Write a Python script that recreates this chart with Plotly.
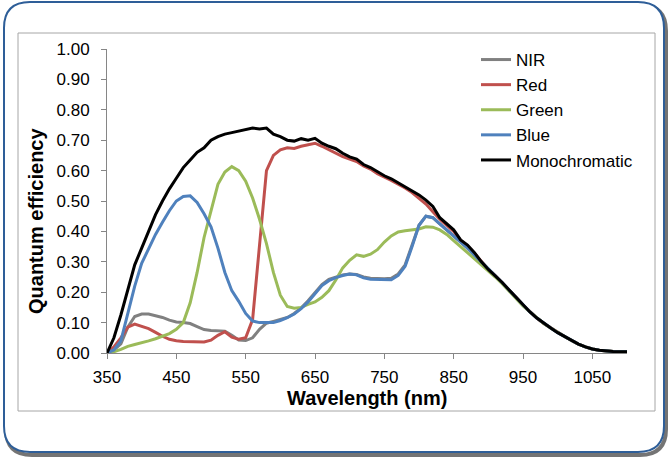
import plotly.graph_objects as go

# ---------------- data ----------------
wavelength = list(range(350, 1101, 10))

nir = [0.000, 0.010, 0.030, 0.085, 0.120, 0.128, 0.128, 0.123, 0.117, 0.108,
       0.102, 0.100, 0.097, 0.087, 0.077, 0.074, 0.074, 0.072, 0.058, 0.043,
       0.041, 0.050, 0.078, 0.098, 0.104, 0.110, 0.117, 0.130, 0.148, 0.172,
       0.200, 0.225, 0.242, 0.250, 0.257, 0.260, 0.258, 0.250, 0.246, 0.245,
       0.244, 0.246, 0.260, 0.290, 0.352, 0.420, 0.450, 0.445, 0.425, 0.405,
       0.388, 0.366, 0.345, 0.323, 0.300, 0.275, 0.255, 0.232, 0.207, 0.183,
       0.158, 0.135, 0.115, 0.097, 0.082, 0.067, 0.054, 0.041, 0.029, 0.020,
       0.013, 0.009, 0.006, 0.005, 0.004, 0.004]

red = [0.000, 0.020, 0.050, 0.085, 0.095, 0.088, 0.080, 0.068, 0.055, 0.045,
       0.040, 0.038, 0.038, 0.037, 0.036, 0.042, 0.058, 0.070, 0.052, 0.045,
       0.050, 0.110, 0.360, 0.600, 0.650, 0.668, 0.675, 0.673, 0.680, 0.684,
       0.690, 0.680, 0.668, 0.657, 0.646, 0.638, 0.630, 0.615, 0.605, 0.590,
       0.580, 0.568, 0.555, 0.543, 0.528, 0.510, 0.490, 0.465, 0.440, 0.420,
       0.400, 0.370, 0.352, 0.328, 0.300, 0.275, 0.255, 0.232, 0.207, 0.183,
       0.158, 0.135, 0.115, 0.097, 0.082, 0.067, 0.054, 0.041, 0.029, 0.020,
       0.013, 0.009, 0.006, 0.005, 0.004, 0.004]

green = [0.000, 0.004, 0.012, 0.022, 0.028, 0.033, 0.040, 0.047, 0.055, 0.064,
         0.078, 0.100, 0.165, 0.265, 0.380, 0.470, 0.555, 0.595, 0.613, 0.600,
         0.565, 0.510, 0.440, 0.360, 0.265, 0.190, 0.153, 0.147, 0.150, 0.160,
         0.168, 0.183, 0.205, 0.240, 0.280, 0.305, 0.323, 0.318, 0.325, 0.340,
         0.365, 0.385, 0.398, 0.402, 0.405, 0.408, 0.415, 0.414, 0.405, 0.390,
         0.370, 0.350, 0.330, 0.312, 0.290, 0.270, 0.250, 0.228, 0.203, 0.180,
         0.155, 0.135, 0.115, 0.097, 0.082, 0.067, 0.054, 0.041, 0.029, 0.020,
         0.013, 0.009, 0.006, 0.005, 0.004, 0.004]

blue = [0.000, 0.010, 0.040, 0.130, 0.220, 0.295, 0.345, 0.390, 0.430, 0.468,
        0.500, 0.515, 0.517, 0.495, 0.458, 0.415, 0.345, 0.265, 0.205, 0.170,
        0.130, 0.105, 0.100, 0.100, 0.100, 0.107, 0.116, 0.128, 0.146, 0.168,
        0.195, 0.222, 0.238, 0.248, 0.255, 0.260, 0.257, 0.247, 0.243, 0.242,
        0.241, 0.241, 0.255, 0.285, 0.350, 0.420, 0.450, 0.445, 0.425, 0.405,
        0.387, 0.365, 0.345, 0.322, 0.300, 0.275, 0.255, 0.232, 0.207, 0.183,
        0.158, 0.135, 0.115, 0.097, 0.082, 0.067, 0.054, 0.041, 0.029, 0.020,
        0.013, 0.009, 0.006, 0.005, 0.004, 0.004]

mono = [0.000, 0.050, 0.125, 0.210, 0.290, 0.345, 0.400, 0.455, 0.500, 0.540,
        0.575, 0.610, 0.635, 0.660, 0.675, 0.700, 0.712, 0.720, 0.725, 0.730,
        0.737, 0.740, 0.737, 0.740, 0.720, 0.712, 0.700, 0.697, 0.705, 0.700,
        0.706, 0.690, 0.680, 0.672, 0.657, 0.645, 0.638, 0.620, 0.610, 0.597,
        0.583, 0.573, 0.560, 0.548, 0.535, 0.520, 0.503, 0.482, 0.445, 0.425,
        0.405, 0.372, 0.355, 0.330, 0.300, 0.275, 0.255, 0.232, 0.207, 0.183,
        0.158, 0.135, 0.115, 0.097, 0.082, 0.067, 0.054, 0.041, 0.029, 0.020,
        0.013, 0.009, 0.006, 0.005, 0.004, 0.004]

series_names = ["NIR", "Red", "Green", "Blue", "Monochromatic"]
series_values = [nir, red, green, blue, mono]
series_colors = ["#808080", "#c0504d", "#9bbb59", "#4f81bd", "#000000"]

x_ticks = list(range(350, 1051, 100))
y_ticks = [i / 10 for i in range(0, 11)]

# ---------------- layout geometry (pixels) ----------------
W, H = 668, 457
ML, MR, MT, MB = 107, 41, 49, 104
PW, PH = W - ML - MR, H - MT - MB


def px(xp):
    return (xp - ML) / PW


def py(yp):
    return (H - MB - yp) / PH


def rounded_rect(x0, y0, x1, y1, r):
    return (f"M {px(x0 + r)},{py(y0)} L {px(x1 - r)},{py(y0)} "
            f"Q {px(x1)},{py(y0)} {px(x1)},{py(y0 + r)} "
            f"L {px(x1)},{py(y1 - r)} Q {px(x1)},{py(y1)} {px(x1 - r)},{py(y1)} "
            f"L {px(x0 + r)},{py(y1)} Q {px(x0)},{py(y1)} {px(x0)},{py(y1 - r)} "
            f"L {px(x0)},{py(y0 + r)} Q {px(x0)},{py(y0)} {px(x0 + r)},{py(y0)} Z")


FONT = "Liberation Sans, Arial, sans-serif"

fig = go.Figure()
for name, vals, col in zip(series_names, series_values, series_colors):
    fig.add_trace(go.Scatter(x=wavelength, y=vals, mode="lines", name=name,
                             line=dict(color=col, width=3)))

shapes = [
    # shadow of outer frame
    dict(type="path", xref="paper", yref="paper", layer="below",
         path=rounded_rect(6, 5, 666, 455, 26),
         line=dict(color="rgba(70,70,70,0.75)", width=4)),
    # outer blue rounded frame
    dict(type="path", xref="paper", yref="paper", layer="below",
         path=rounded_rect(4, 2, 664, 452, 26),
         line=dict(color="#2e5e98", width=2), fillcolor="white"),
    # inner chart border
    dict(type="rect", xref="paper", yref="paper", layer="below",
         x0=px(18), x1=px(655), y0=py(411), y1=py(33),
         line=dict(color="#a6a6a6", width=1)),
]

annotations = [
    dict(text="<b>Wavelength (nm)</b>", xref="paper", yref="paper",
         x=px(367), y=py(398), xanchor="center", yanchor="middle",
         showarrow=False, font=dict(family=FONT, size=20, color="#000")),
    dict(text="<b>Quantum efficiency</b>", xref="paper", yref="paper",
         x=px(36), y=py(221), xanchor="center", yanchor="middle",
         textangle=-90, showarrow=False,
         font=dict(family=FONT, size=20, color="#000")),
]

fig.update_layout(
    width=W, height=H,
    margin=dict(l=ML, r=MR, t=MT, b=MB, pad=0),
    paper_bgcolor="white", plot_bgcolor="rgba(0,0,0,0)",
    font=dict(family=FONT, size=17, color="#000"),
    shapes=shapes, annotations=annotations,
    showlegend=True,
    legend=dict(x=px(476), y=py(42), xanchor="left", yanchor="top",
                bgcolor="rgba(0,0,0,0)", borderwidth=0,
                font=dict(family=FONT, size=17, color="#000"),
                itemwidth=30, tracegroupgap=0),
    xaxis=dict(range=[350, 1100], tickvals=x_ticks, ticks="outside",
               ticklen=5, tickcolor="#868686", showline=True,
               linecolor="#868686", linewidth=1, showgrid=False,
               zeroline=False, ticklabelstandoff=4,
               tickfont=dict(family=FONT, size=17, color="#000")),
    yaxis=dict(range=[0, 1], tickvals=y_ticks, tickformat=".2f",
               ticks="outside", ticklen=5, tickcolor="#868686",
               showline=True, linecolor="#868686", linewidth=1,
               showgrid=False, zeroline=False, ticklabelstandoff=8,
               tickfont=dict(family=FONT, size=17, color="#000")),
)

fig.write_html("out.html",
               config={"displayModeBar": False},
               post_script="document.body.style.margin='0';"
                           "document.body.style.overflow='hidden';")
